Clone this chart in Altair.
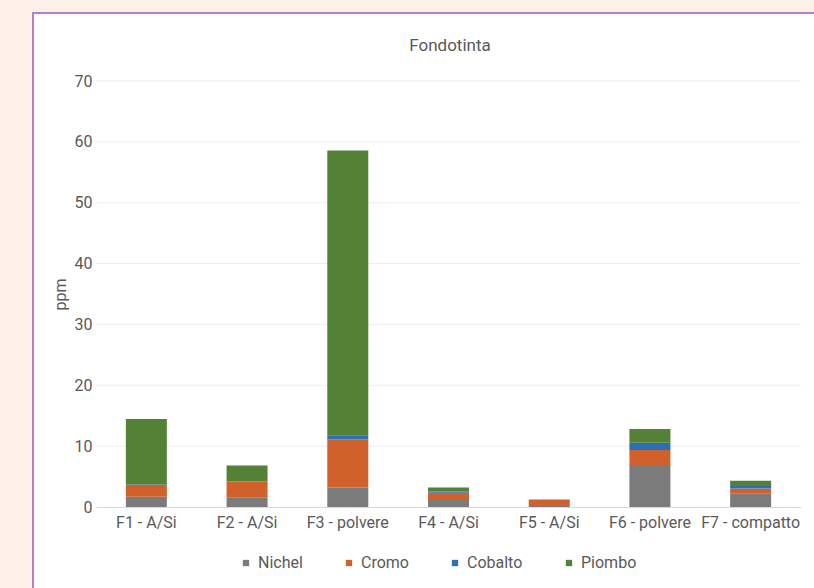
import altair as alt
import pandas as pd

title_text = "Fondotinta"
categories = ["F1 - A/Si", "F2 - A/Si", "F3 - polvere", "F4 - A/Si", "F5 - A/Si", "F6 - polvere", "F7 - compatto"]
series = ["Nichel", "Cromo", "Cobalto", "Piombo"]
nichel = [1.7, 1.6, 3.2, 1.15, 0.15, 6.9, 2.25]
cromo = [1.9, 2.55, 7.9, 1.2, 1.1, 2.45, 0.8]
cobalto = [0.1, 0.05, 0.7, 0.2, 0.0, 1.2, 0.4]
piombo = [10.75, 2.6, 46.8, 0.65, 0.0, 2.25, 0.85]
y_ticks = [0, 10, 20, 30, 40, 50, 60, 70]
colors = ["#7b7b7b", "#d0612b", "#2a70b8", "#538135"]

rows = []
for s_i, (name, vals) in enumerate(zip(series, [nichel, cromo, cobalto, piombo])):
    for c, v in zip(categories, vals):
        rows.append({"cat": c, "serie": name, "val": v, "ord": s_i})
df = pd.DataFrame(rows)

FONT = "Roboto"
TXT = "#595959"
FS = 16

frame = alt.Chart(pd.DataFrame({"k": [0]})).mark_rect(
    fill="white", stroke="#b57fc7", strokeWidth=2
).encode(
    x=alt.value(-63), x2=alt.value(760), y=alt.value(-68), y2=alt.value(560)
)

title = alt.Chart(pd.DataFrame({"t": [title_text]})).mark_text(
    font=FONT, fontSize=17, color=TXT, align="center", baseline="middle"
).encode(text="t:N", x=alt.value(354), y=alt.value(-35))

grid = alt.Chart(pd.DataFrame({"t": y_ticks[1:]})).mark_rule(
    color="#ececec", strokeWidth=1
).encode(y=alt.Y("t:Q", scale=alt.Scale(domain=[0, 70])))

bars = alt.Chart(df).mark_bar(size=41).encode(
    x=alt.X("cat:N", sort=categories,
            scale=alt.Scale(paddingInner=0.59, paddingOuter=0.295),
            axis=alt.Axis(title=None, labelAngle=0, ticks=False, domain=True,
                          domainColor="#d9d9d9", labelPadding=7, labelFontSize=FS,
                          labelColor=TXT, labelFont=FONT, grid=False, zindex=1)),
    y=alt.Y("val:Q", stack="zero",
            scale=alt.Scale(domain=[0, 70]),
            axis=alt.Axis(title="ppm", values=y_ticks,
                          ticks=False, domain=False, grid=False, zindex=1,
                          labelPadding=4, labelFontSize=FS, labelColor=TXT,
                          labelFont=FONT, titleFont=FONT, titleFontSize=FS,
                          titleColor=TXT, titleFontWeight="normal", titlePadding=6)),
    color=alt.Color("serie:N", sort=series,
                    scale=alt.Scale(domain=series, range=colors),
                    legend=alt.Legend(title=None, orient="none", direction="horizontal",
                                      legendX=142, legendY=474,
                                      symbolType="square", symbolSize=40,
                                      labelFont=FONT, labelFontSize=FS, labelColor=TXT,
                                      columnPadding=38, zindex=1)),
    order=alt.Order("ord:Q"),
)

chart = alt.layer(frame, title, grid, bars).properties(
    width=705, height=426,
    background="#fcf0e9",
    padding={"left": 96, "top": 81, "right": 13, "bottom": 81},
    autosize=alt.AutoSizeParams(type="none"),
).configure_view(stroke=None)

chart.save("out.html", embed_options={"renderer": "svg", "actions": False})
